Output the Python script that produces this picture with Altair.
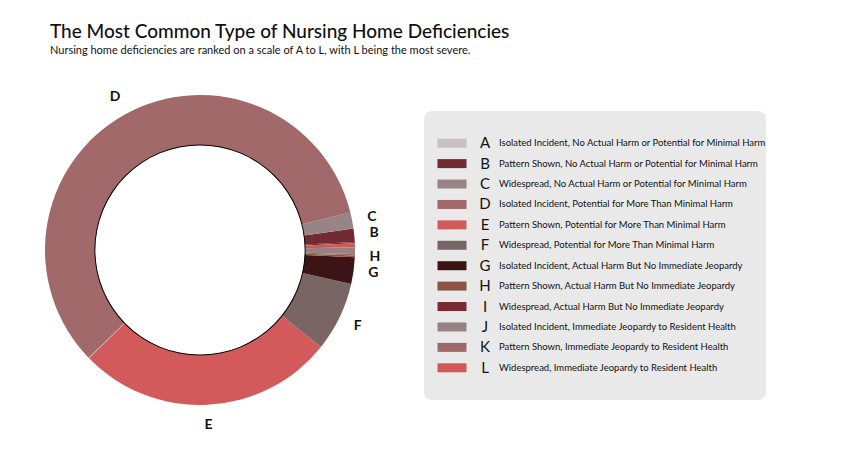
import math
import altair as alt
import pandas as pd

letters = list("ABCDEFGHIJKL")
descriptions = [
    "Isolated Incident, No Actual Harm or Potential for Minimal Harm",
    "Pattern Shown, No Actual Harm or Potential for Minimal Harm",
    "Widespread, No Actual Harm or Potential for Minimal Harm",
    "Isolated Incident, Potential for More Than Minimal Harm",
    "Pattern Shown, Potential for More Than Minimal Harm",
    "Widespread, Potential for More Than Minimal Harm",
    "Isolated Incident, Actual Harm But No Immediate Jeopardy",
    "Pattern Shown, Actual Harm But No Immediate Jeopardy",
    "Widespread, Actual Harm But No Immediate Jeopardy",
    "Isolated Incident, Immediate Jeopardy to Resident Health",
    "Pattern Shown, Immediate Jeopardy to Resident Health",
    "Widespread, Immediate Jeopardy to Resident Health",
]
colors = ["#c9c1c1", "#722a33", "#988484", "#a1696a", "#d25a5a", "#7a6565",
          "#3d1416", "#8a5545", "#782b33", "#958282", "#a06868", "#d05858"]
# share of deficiencies (degrees of the ring)
shares = [0.3, 5, 6, 210, 97, 26, 10, 0.7, 0.5, 2.5, 0.5, 1.5]
# clockwise drawing order in the ring
ring_order = [12, 3, 2, 1, 11, 10, 9, 8, 4, 6, 7, 5]
shown_labels = {"B", "C", "D", "E", "F", "G", "H"}

df = pd.DataFrame({
    "letter": letters, "desc": descriptions, "color": colors,
    "share": shares, "ord": ring_order,
    "label": [l if l in shown_labels else "" for l in letters],
})

CX, CY = 192, 242
start = math.radians(226) - 2 * math.pi
theta_scale = alt.Scale(domain=[0, 360], range=[start, start + 2 * math.pi])
color_scale = alt.Scale(domain=letters, range=colors)
FONT = "Lato"

base = alt.Chart(df)

stacked = base.transform_window(
    cum="sum(share)", sort=[alt.SortField("ord")], frame=[None, 0]
).transform_calculate(
    t0="datum.cum - datum.share", tmid="datum.cum - datum.share / 2"
)

ring = stacked.mark_arc(radius=155, radius2=105).encode(
    theta=alt.Theta("t0:Q", scale=theta_scale),
    theta2="cum:Q",
    color=alt.Color("letter:N", scale=color_scale, legend=None),
    x=alt.value(CX), y=alt.value(CY),
)

inner = base.transform_filter("datum.letter == 'A'").mark_arc(
    color="black"
).encode(
    theta=alt.value(0), theta2=alt.value(2 * math.pi),
    radius=alt.value(105.6), radius2=alt.value(104.6),
    x=alt.value(CX), y=alt.value(CY),
)

ring_labels = stacked.mark_text(radius=175, font=FONT, fontSize=14, fontWeight="bold",
                                color="#111").encode(
    theta=alt.Theta("tmid:Q", scale=theta_scale),
    text="label:N",
    x=alt.value(CX), y=alt.value(CY),
)

box = base.transform_filter("datum.letter == 'A'").mark_rect(
    color="#e9e9e9", cornerRadius=8
).encode(
    x=alt.value(416), x2=alt.value(758), y=alt.value(103), y2=alt.value(392),
)

ypos = alt.Y("letter:O", scale=alt.Scale(domain=letters, range=[125, 370], padding=0),
             axis=None)

swatch = base.mark_rect(width=29, height=9).encode(
    x=alt.value(444), y=ypos,
    color=alt.Color("letter:N", scale=color_scale, legend=None),
)
leg_letter = base.mark_text(align="center", font=FONT, fontSize=15, color="#111").encode(
    x=alt.value(477), y=ypos, text="letter:N",
)
leg_desc = base.mark_text(align="left", font=FONT, fontSize=9.5, color="#111").encode(
    x=alt.value(491), y=ypos, text="desc:N",
)

title = base.transform_filter("datum.letter == 'A'").mark_text(
    align="left", font=FONT, fontSize=19, fontWeight=500, color="#111"
).encode(x=alt.value(42), y=alt.value(24),
         text=alt.value("The Most Common Type of Nursing Home Deficiencies"))
subtitle = base.transform_filter("datum.letter == 'A'").mark_text(
    align="left", font=FONT, fontSize=11, color="#111"
).encode(x=alt.value(42), y=alt.value(43),
         text=alt.value("Nursing home deficiencies are ranked on a scale of A to L, with L being the most severe."))

chart = alt.layer(
    ring, inner, ring_labels, box, swatch, leg_letter, leg_desc, title, subtitle
).properties(
    width=848, height=441, padding=0, autosize="none"
).configure_view(stroke=None)

chart.save("out.html", embed_options={"renderer": "svg", "actions": False})
